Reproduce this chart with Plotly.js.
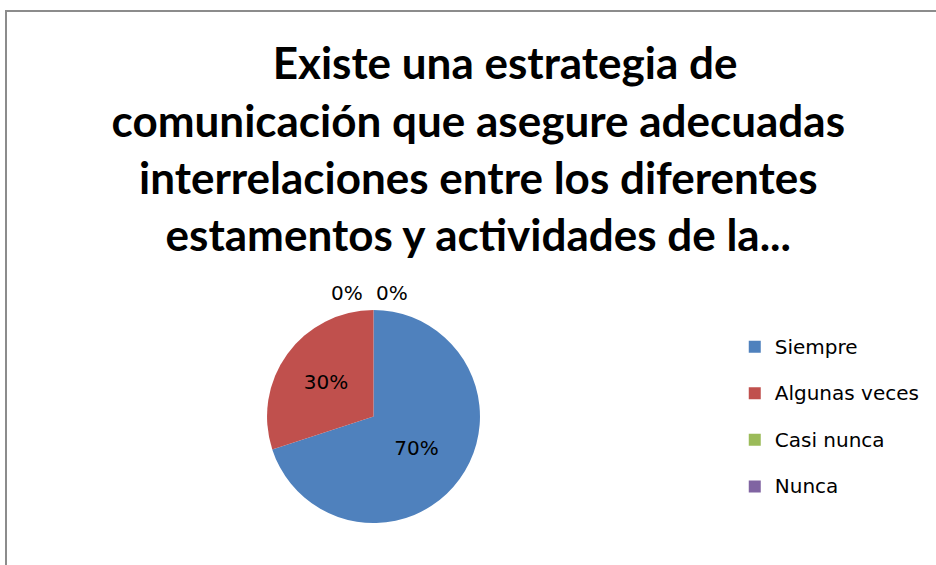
<!DOCTYPE html>
<html>
<head>
<meta charset="utf-8">
<script src="https://cdn.plot.ly/plotly-3.0.1.min.js"></script>
<style>
html,body{margin:0;padding:0;background:#fff;}
#wrap{position:relative;width:936px;height:565px;overflow:hidden;}
#chart{width:936px;height:565px;}
#frame{position:absolute;left:5px;top:10px;width:960px;height:600px;border-top:2px solid #8c8c8c;border-left:2px solid #8c8c8c;pointer-events:none;}
</style>
</head>
<body>
<div id="wrap"><div id="chart"></div><div id="frame"></div></div>
<script>
const categories = ['Siempre', 'Algunas veces', 'Casi nunca', 'Nunca'];
const values = [70, 30, 0, 0];
const colors = ['#4F81BD', '#C0504D', '#9BBB59', '#8064A2'];
const titleText = '\u200B\u00A0\u00A0\u00A0\u00A0\u00A0Existe una estrategia de<br>comunicación que asegure adecuadas<br>interrelaciones entre los diferentes<br>estamentos y actividades de la...';

const total = values.reduce((a, b) => a + b, 0);
const titleFont = 'Lato, "Open Sans", sans-serif';
const bodyFont = '"DejaVu Sans", "Open Sans", sans-serif';

// legend entries: text drawn at 20px inside a taller legend row
const legendLabels = categories.map(c => '<span style="font-size:20px;baseline-shift:6px">' + c + '</span>');

// labels for empty slices are placed as annotations above the pie
const zeroAnn = [];
const zeroPos = [{x: 0.371, y: 0.482}, {x: 0.419, y: 0.482}];
let zi = 0;
values.forEach((v, i) => {
  if (v === 0 && zi < zeroPos.length) {
    zeroAnn.push({
      xref: 'paper', yref: 'paper', x: zeroPos[zi].x, y: zeroPos[zi].y,
      text: Math.round(100 * v / total) + '%', showarrow: false,
      font: {family: bodyFont, size: 20, color: '#000'}
    });
    zi++;
  }
});

const data = [{
  type: 'pie',
  labels: legendLabels,
  values: values,
  marker: {colors: colors, line: {width: 0}},
  sort: false,
  direction: 'clockwise',
  rotation: 0,
  texttemplate: values.map(v => v > 0 ? '%{percent:.0%}' : ''),
  textposition: 'inside',
  insidetextorientation: 'horizontal',
  textfont: {family: bodyFont, size: 20, color: '#000'},
  hoverinfo: 'label+percent',
  domain: {x: [0.2853, 0.5128], y: [0.0743, 0.4513]},
  showlegend: true
}];

const layout = {
  width: 936, height: 565,
  margin: {l: 0, r: 0, t: 0, b: 0},
  paper_bgcolor: '#fff',
  title: {
    text: titleText,
    x: 0.511, xanchor: 'center',
    y: 0.8595, yanchor: 'top',
    font: {family: titleFont, size: 44, color: '#000', weight: 'bold'}
  },
  legend: {
    x: 0.785, xanchor: 'left',
    y: 0.262, yanchor: 'middle',
    font: {family: bodyFont, size: 33.5, color: '#000'},
    itemclick: false
  },
  annotations: zeroAnn
};

Plotly.newPlot('chart', data, layout, {displayModeBar: false, staticPlot: true});
</script>
</body>
</html>
